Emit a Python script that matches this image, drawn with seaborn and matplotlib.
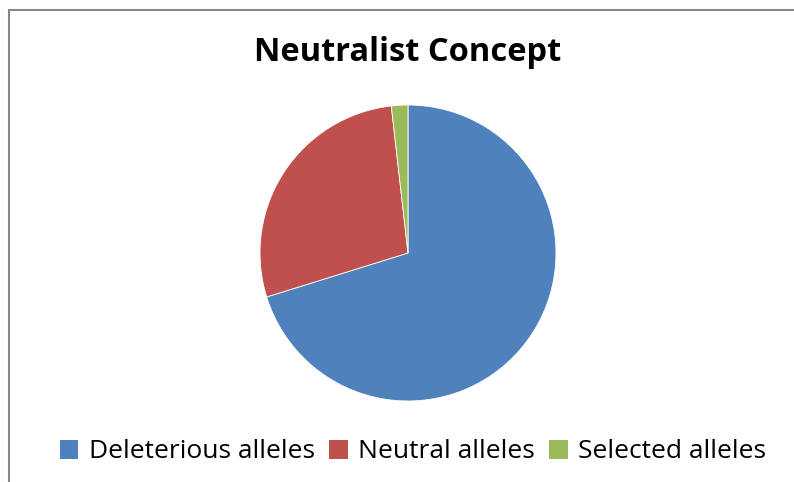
import matplotlib
matplotlib.use("Agg")
import matplotlib.pyplot as plt
from matplotlib.patches import Rectangle, Patch
import seaborn as sns

labels = ["Deleterious alleles", "Neutral alleles", "Selected alleles"]
shares = [70.2, 28.0, 1.8]
colors = ["#4F81BD", "#C0504D", "#9BBB59"]

sns.set_theme(style="white")
plt.rcParams["font.family"] = ["Open Sans", "DejaVu Sans"]
plt.rcParams["text.color"] = "black"

W, H = 794, 482
fig = plt.figure(figsize=(W / 100, H / 100), dpi=100)

# chart frame (right and bottom edges run off the picture)
fig.patches.append(Rectangle((9 / W, -0.1), 1.2, 1 - 10 / H + 0.1, transform=fig.transFigure,
                             fill=False, edgecolor="#868686", linewidth=1.5))

cx, cy, r = 408, 253, 148
ax = fig.add_axes([(cx - r) / W, (H - cy - r) / H, 2 * r / W, 2 * r / H])
palette = sns.color_palette(colors)
ax.pie(shares, colors=palette, startangle=90, counterclock=False, radius=1,
       wedgeprops={"linewidth": 0.6, "edgecolor": "white"})
ax.set_xlim(-1, 1)
ax.set_ylim(-1, 1)
ax.set_aspect("equal")
ax.axis("off")

fig.text(408 / W, 1 - 52 / H, "Neutralist Concept", ha="center", va="center",
         fontsize=23.5, fontweight="bold", color="black")

handles = [Patch(facecolor=c, edgecolor="none") for c in palette]
fig.legend(handles, labels, loc="center", bbox_to_anchor=(413 / W, 1 - 452 / H), ncol=3,
           frameon=False, fontsize=19, handlelength=0.7, handleheight=0.7,
           handletextpad=0.4, columnspacing=0.55, labelcolor="black")

fig.savefig("out.png", dpi=100)
